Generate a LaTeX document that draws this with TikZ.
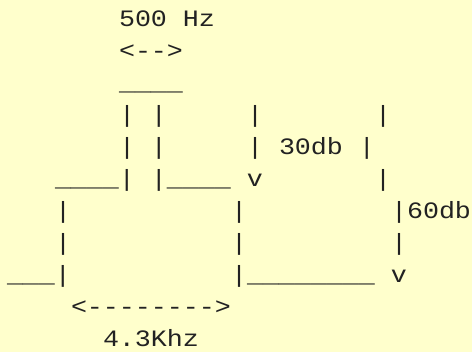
\documentclass[tikz,border=0pt]{standalone}
\usepackage{fontspec}
\setmonofont[FakeStretch=1.1346]{Liberation Mono}
\definecolor{bgyellow}{HTML}{FFFFCC}
\definecolor{ink}{HTML}{222222}
\begin{document}
\begin{tikzpicture}[x=1pt,y=1pt,
  asc/.style={anchor=base west,inner sep=0pt,outer sep=0pt,text=ink,
    font=\ttfamily\fontsize{23.5pt}{32pt}\selectfont}]
\fill[bgyellow] (0,0) rectangle (472,352);
\useasboundingbox (0,0) rectangle (472,352);
\node[asc] (l1)  at (7,325) {~~~~~~~500~Hz};
\node[asc] (l2)  at (7,293) {~~~~~~~<-{}->};
\node[asc] (l3)  at (7,261) {~~~~~~~\_\_\_\_};
\node[asc] (l4)  at (7,229) {~~~~~~~|~|~~~~~|~~~~~~~|};
\node[asc] (l5)  at (7,197) {~~~~~~~|~|~~~~~|~30db~|};
\node[asc] (l6)  at (7,165) {~~~\_\_\_\_|~|\_\_\_\_~v~~~~~~~|};
\node[asc] (l7)  at (7,133) {~~~|~~~~~~~~~~|~~~~~~~~~|60db};
\node[asc] (l8)  at (7,101) {~~~|~~~~~~~~~~|~~~~~~~~~|};
\node[asc] (l9)  at (7,69)  {\_\_\_|~~~~~~~~~~|\_\_\_\_\_\_\_\_~v};
\node[asc] (l10) at (7,37)  {~~~~<-{}-{}-{}-{}-{}-{}-{}->};
\node[asc] (l11) at (7,5)   {~~~~~~4.3Khz};
\end{tikzpicture}
\end{document}
